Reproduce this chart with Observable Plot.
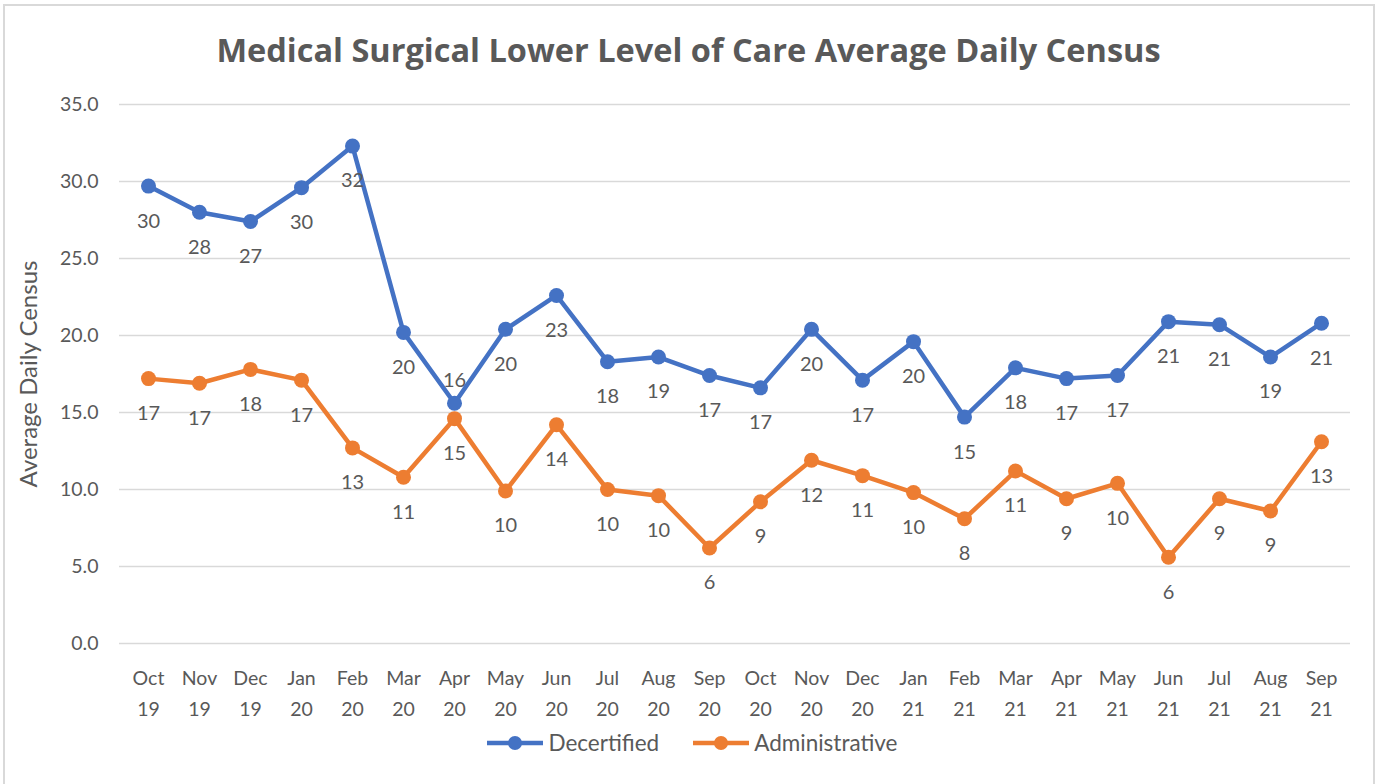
<!DOCTYPE html>
<html><head><meta charset="utf-8">
<script src="https://cdn.jsdelivr.net/npm/d3@7"></script>
<script src="https://cdn.jsdelivr.net/npm/@observablehq/plot@0.6"></script>
<style>
body{margin:0;background:#fff;font-family:Lato,"Open Sans",sans-serif;}
#page{position:relative;width:1377px;height:784px;overflow:hidden;background:#fff}
#frame{position:absolute;left:3px;top:4px;width:1372px;height:800px;box-sizing:border-box;border:2px solid #d9d9d9}
#title{position:absolute;top:28px;left:0;width:1377px;text-align:center;font-family:"Open Sans",sans-serif;font-size:32.5px;font-weight:bold;color:#595959;line-height:44px}
#chart{position:absolute;top:85px;left:0}
#legend{position:absolute;top:729px;left:0;width:1377px;display:flex;justify-content:center;gap:34px;font-size:22.5px;color:#595959;align-items:center;padding-left:8px;box-sizing:border-box}
.item{display:flex;align-items:center;gap:5px}
</style>
</head><body>
<div id="page">
<div id="frame"></div>
<div id="title">Medical Surgical Lower Level of Care Average Daily Census</div>
<div id="chart"></div>
<div id="legend"></div>
</div>
<script>
const months = ["Oct 19","Nov 19","Dec 19","Jan 20","Feb 20","Mar 20","Apr 20","May 20","Jun 20","Jul 20","Aug 20","Sep 20","Oct 20","Nov 20","Dec 20","Jan 21","Feb 21","Mar 21","Apr 21","May 21","Jun 21","Jul 21","Aug 21","Sep 21"];
const decertified = [29.7,28.0,27.4,29.6,32.3,20.2,15.6,20.4,22.6,18.3,18.6,17.4,16.6,20.4,17.1,19.6,14.7,17.9,17.2,17.4,20.9,20.7,18.6,20.8];
const administrative = [17.2,16.9,17.8,17.1,12.7,10.8,14.6,9.9,14.2,10.0,9.6,6.2,9.2,11.9,10.9,9.8,8.1,11.2,9.4,10.4,5.6,9.4,8.6,13.1];
const seriesNames = ["Decertified","Administrative"];
const seriesColors = ["#4472C4","#ED7D31"];
const yTicks = [0,5,10,15,20,25,30,35];
const labelsAbove = {"Decertified":["Apr 20"]};

const rows = [];
[decertified, administrative].forEach((vals, s) => {
  vals.forEach((v, i) => rows.push({month: months[i], value: v, series: seriesNames[s]}));
});
const isAbove = d => (labelsAbove[d.series] || []).includes(d.month);

const plot = Plot.plot({
  width: 1377,
  height: 640,
  marginLeft: 119,
  marginRight: 27,
  marginTop: 19,
  marginBottom: 82,
  style: {fontFamily: "Lato, 'Open Sans', sans-serif", color: "#595959", background: "transparent"},
  x: {type: "point", domain: months, padding: 0.5},
  y: {domain: [0, 35]},
  color: {domain: seriesNames, range: seriesColors},
  marks: [
    Plot.gridY(yTicks, {stroke: "#d9d9d9", strokeOpacity: 1, strokeWidth: 1.5}),
    Plot.axisY(yTicks, {tickSize: 0, tickPadding: 21, tickFormat: d3.format(".1f"), fontSize: 19.5, fill: "#595959",
      label: "Average Daily Census", labelAnchor: "center", labelArrow: "none", labelOffset: 100}),
    Plot.axisX({tickSize: 0, tickPadding: 19, tickFormat: d => d.replace(" ", "\n"), fontSize: 19.5, lineHeight: 1.6, fill: "#595959", label: null}),
    Plot.line(rows, {x: "month", y: "value", stroke: "series", strokeWidth: 4.5, curve: "linear"}),
    Plot.dot(rows, {x: "month", y: "value", fill: "series", r: 7.5}),
    Plot.text(rows.filter(d => !isAbove(d)), {x: "month", y: "value", text: d => String(Math.round(d.value)), dy: 35, fontSize: 20, fill: "#595959"}),
    Plot.text(rows.filter(isAbove), {x: "month", y: "value", text: d => String(Math.round(d.value)), dy: -23, fontSize: 20, fill: "#595959"})
  ]
});
document.getElementById("chart").appendChild(plot);
plot.querySelectorAll("g[aria-label='y-axis label'] text").forEach(t => t.setAttribute("font-size", 24));

const legend = document.getElementById("legend");
seriesNames.forEach((name, i) => {
  const item = document.createElement("div");
  item.className = "item";
  item.innerHTML = `<svg width="56" height="20"><line x1="0" y1="10" x2="56" y2="10" stroke="${seriesColors[i]}" stroke-width="4.5"/><circle cx="28" cy="10" r="7" fill="${seriesColors[i]}"/></svg><span>${name}</span>`;
  legend.appendChild(item);
});
</script>
</body></html>
